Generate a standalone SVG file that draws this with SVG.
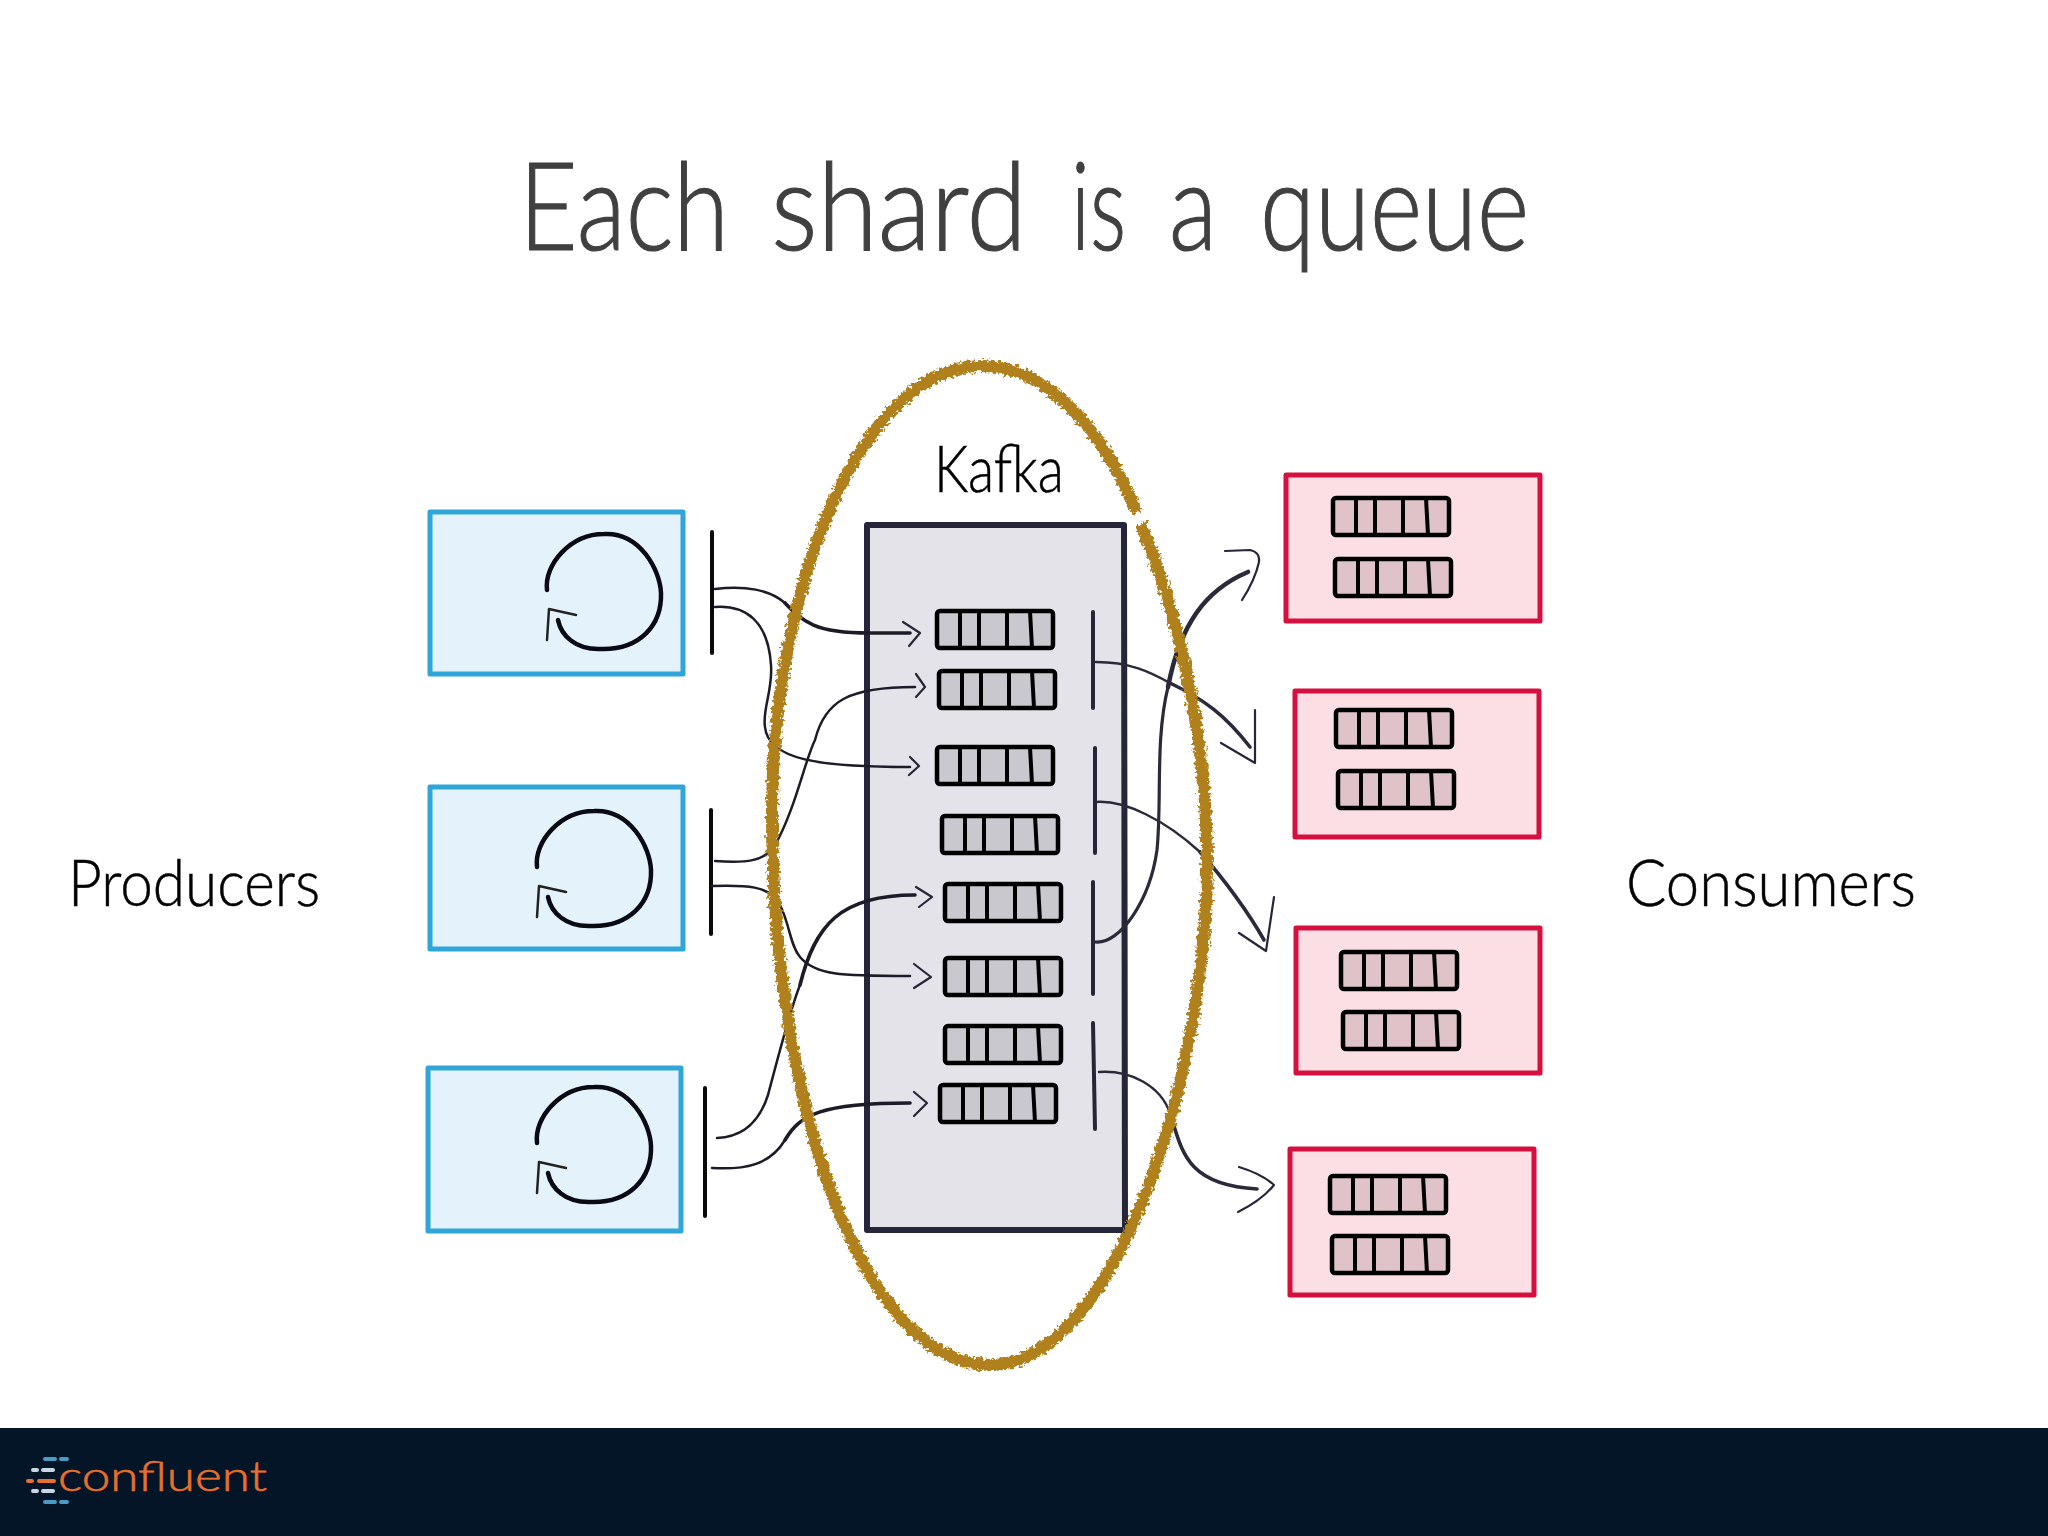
<svg xmlns="http://www.w3.org/2000/svg" width="2048" height="1536" viewBox="0 0 2048 1536">
<style>
text{font-family:"Lato","Open Sans","Liberation Sans",sans-serif}
.title{font-size:122px;font-weight:300;fill:#404040;stroke:#404040;stroke-width:1.2}
.label{font-size:66px;font-weight:300;fill:#000;stroke:#000;stroke-width:.5}
.prod rect{fill:#e4f3fb;stroke:#2fa5d8;stroke-width:5;stroke-linejoin:round}
.cons>rect{fill:#fbdfe4;stroke:#d5103f;stroke-width:5;stroke-linejoin:round}
.bar{stroke:#0a0a0a;stroke-width:4;stroke-linecap:round;fill:none}
.bar2{stroke:#26263a;stroke-width:4;stroke-linecap:round;fill:none}
.loop{fill:none;stroke:#0a0a14;stroke-width:4.5;stroke-linecap:round}
.loophead{fill:none;stroke:#222;stroke-width:2.5;stroke-linecap:round;stroke-linejoin:round}
.frame{fill:none;stroke:#000;stroke-width:4.5;stroke-linejoin:round}
.div{stroke:#000;stroke-width:4;fill:none}
.c{fill:none;stroke:#1c1c28;stroke-width:2.5;stroke-linecap:round}
.e{fill:none;stroke:#1c1c28;stroke-width:3.6;stroke-linecap:round}
.d{stroke:#2a2a3a}
.h{fill:none;stroke:#26263a;stroke-width:2.2;stroke-linecap:round;stroke-linejoin:round}
.dash{stroke-width:4;stroke-linecap:round;fill:none}
</style>
<defs>
<filter id="rough" x="-10%" y="-10%" width="120%" height="120%">
<feTurbulence type="fractalNoise" baseFrequency="0.3" numOctaves="3" seed="4" result="n"/>
<feDisplacementMap in="SourceGraphic" in2="n" scale="9" xChannelSelector="R" yChannelSelector="G"/>
</filter>
<g id="qlines">
<rect class="frame" x="0" y="0" width="116" height="37" rx="3"/>
<path class="div" d="M23 0V37M42 0V37M70 0V37M93 0L95 37"/>
</g>
<g id="qk"><rect x="0" y="0" width="116" height="37" rx="3" fill="#c9c8ce"/><use href="#qlines"/></g>
<g id="qc"><rect x="0" y="0" width="116" height="37" rx="3" fill="#dfc3c9"/><use href="#qlines"/></g>
<g id="loopicon">
<path class="loop" d="M547 590C544 565 570 534 604 534C640 532 660 570 661 593C662 625 640 650 601 649C575 650 561 635 558 620"/>
<path class="loophead" d="M547 640L549 609L576 615"/>
</g>
</defs>
<rect width="2048" height="1536" fill="#fff"/>
<text class="title" y="250"><tspan x="519" textLength="210" lengthAdjust="spacingAndGlyphs">Each</tspan> <tspan x="771" textLength="256" lengthAdjust="spacingAndGlyphs">shard</tspan> <tspan x="1071" textLength="55" lengthAdjust="spacingAndGlyphs">is</tspan> <tspan x="1169" textLength="48" lengthAdjust="spacingAndGlyphs">a</tspan> <tspan x="1260" textLength="269" lengthAdjust="spacingAndGlyphs">queue</tspan></text>
<text class="label" x="68" y="906" textLength="252" lengthAdjust="spacingAndGlyphs">Producers</text>
<text class="label" x="1626" y="906" textLength="290" lengthAdjust="spacingAndGlyphs">Consumers</text>
<text class="label" x="934" y="492" textLength="130" lengthAdjust="spacingAndGlyphs">Kafka</text>

<g id="producer-1" class="prod"><rect x="430" y="512" width="253" height="162"/><use href="#loopicon"/><path class="bar" d="M712 532V653"/></g>
<g id="producer-2" class="prod"><rect x="430" y="787" width="253" height="162"/><use href="#loopicon" transform="translate(-10 277)"/><path class="bar" d="M711 810V934"/></g>
<g id="producer-3" class="prod"><rect x="428" y="1068" width="253" height="163"/><use href="#loopicon" transform="translate(-10 553)"/><path class="bar" d="M705 1088V1216"/></g>

<g id="kafka">
<path d="M867 525H1124L1125 1230H867Z" fill="#e4e3e9" stroke="#26263a" stroke-width="6" stroke-linejoin="round"/>
<use href="#qk" x="937" y="611"/>
<use href="#qk" x="939" y="671"/>
<use href="#qk" x="937" y="747"/>
<use href="#qk" x="942" y="816"/>
<use href="#qk" x="945" y="884"/>
<use href="#qk" x="945" y="958"/>
<use href="#qk" x="945" y="1026"/>
<use href="#qk" x="940" y="1085"/>
<path class="bar2" d="M1093 612V708M1095 748V853M1093 882V994M1093 1023L1095 1129"/>
</g>

<g id="consumer-1" class="cons"><rect x="1286" y="475" width="254" height="146"/><use href="#qc" x="1333" y="498"/><use href="#qc" x="1335" y="559"/></g>
<g id="consumer-2" class="cons"><rect x="1295" y="691" width="244" height="146"/><use href="#qc" x="1336" y="710"/><use href="#qc" x="1338" y="771"/></g>
<g id="consumer-3" class="cons"><rect x="1296" y="928" width="244" height="145"/><use href="#qc" x="1341" y="952"/><use href="#qc" x="1343" y="1012"/></g>
<g id="consumer-4" class="cons"><rect x="1290" y="1149" width="244" height="146"/><use href="#qc" x="1330" y="1176"/><use href="#qc" x="1332" y="1236"/></g>

<g id="connectors">
<g id="edge-1"><path class="c" d="M715 589C745 585 770 590 785 603"/><path class="e" d="M785 603C803 622 815 633 869 633L910 633"/><path class="h" d="M903 622L920 633L909 646"/></g>
<g id="edge-2"><path class="c" d="M715 607C745 605 768 620 771 665C773 690 762 710 765 727C768 760 820 767 910 767"/><path class="h" d="M910 757L919 766L909 775"/></g>
<g id="edge-3"><path class="c" d="M715 861C745 863 765 862 775 845C795 810 805 760 815 740C825 700 850 687 915 687"/><path class="h" d="M916 674L925 687L916 697"/></g>
<g id="edge-4"><path class="c" d="M712 886C745 885 770 885 780 905C790 925 790 945 800 957C815 975 840 976 910 976"/><path class="h" d="M914 964L931 977L914 988"/></g>
<g id="edge-5"><path class="c" d="M717 1138C745 1137 760 1120 768 1095C780 1050 790 1010 800 985"/><path class="e" d="M800 985C815 925 840 895 915 895"/><path class="h" d="M916 887L932 897L919 907"/></g>
<g id="edge-6"><path class="c" d="M712 1168C745 1170 770 1165 785 1140"/><path class="e" d="M785 1140C800 1115 820 1103 910 1103"/><path class="h" d="M914 1092L927 1103L914 1116"/></g>
<g id="edge-7"><path class="c d" d="M1096 662C1130 662 1150 672 1170 683"/><path class="e d" d="M1170 683C1205 700 1225 715 1250 747"/><path class="h" d="M1221 743L1255 763L1255 710"/></g>
<g id="edge-8"><path class="c d" d="M1096 802C1125 800 1165 820 1200 852"/><path class="e d" d="M1200 852C1225 880 1250 915 1264 940"/><path class="h" d="M1239 933L1266 951L1274 897"/></g>
<g id="edge-9"><path class="c d" style="stroke-width:3.2" d="M1095 942C1120 945 1150 900 1157 850C1162 800 1155 740 1168 687"/><path class="e d" style="stroke-width:4.6" d="M1168 687C1180 625 1205 590 1248 572"/><path class="h" d="M1225 551L1250 550Q1260 552 1259 562Q1255 580 1242 600"/></g>
<g id="edge-10"><path class="c d" d="M1099 1072C1130 1070 1160 1085 1170 1113"/><path class="e d" d="M1170 1113C1182 1150 1185 1185 1257 1189"/><path class="h" d="M1239 1167Q1262 1174 1274 1185Q1262 1200 1238 1212"/></g>
</g>

<g id="kafka-outline" filter="url(#rough)">
<path fill="none" stroke="#b0801c" stroke-width="12" d="M1141 524C1183 626 1207 750 1207 860C1207 1085 1112 1365 990 1365C862 1365 772 1100 772 813C772 590 860 366 982 366C1049 366 1103 432 1137 512"/>
</g>

<g id="footer">
<rect x="0" y="1428" width="2048" height="108" fill="#041527"/>
<path class="dash" stroke="#4a9cc7" d="M45 1459H55M61 1459H67M45 1502H55M61 1502H67"/>
<path class="dash" stroke="#c7d5e6" d="M33 1470H37M43 1470H53M33 1491H37M43 1491H53"/>
<path class="dash" stroke="#e8702a" d="M28 1481H32M39 1481H54"/>
<text x="58" y="1491" font-size="41" font-weight="300" fill="#e8702a" stroke="#e8702a" stroke-width=".6" textLength="209" lengthAdjust="spacingAndGlyphs">confluent</text>
</g>
</svg>
